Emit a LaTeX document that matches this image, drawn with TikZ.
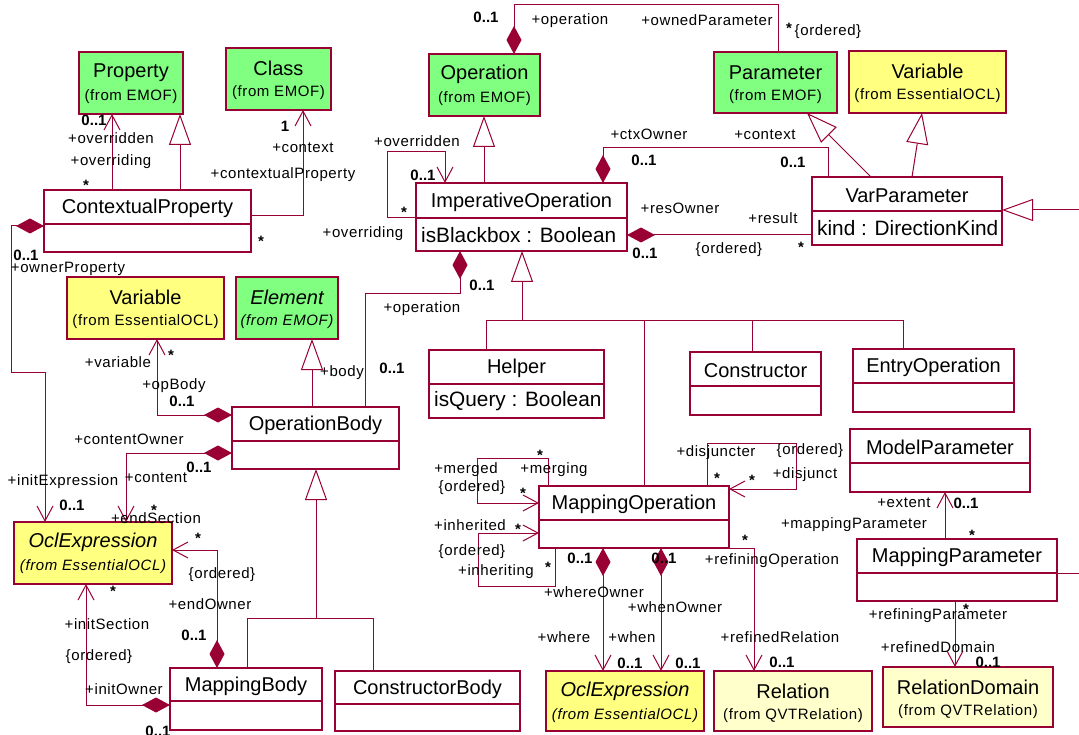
\documentclass[tikz,border=0pt]{standalone}
\usepackage{fontspec}
\setmainfont{Liberation Sans}
\newfontfamily\lblfam[LetterSpace=4]{Liberation Sans}
\usetikzlibrary{arrows.meta,calc}
\definecolor{bord}{RGB}{153,0,51}
\definecolor{gfill}{RGB}{128,255,128}
\definecolor{yfill}{RGB}{255,255,128}
\definecolor{lyfill}{RGB}{255,255,204}
\newcommand\lblfont{\lblfam\fontsize{15}{17}\selectfont}
\newcommand\multfont{\fontsize{15}{17}\selectfont\bfseries}
\newcommand\titlefont{\fontsize{20}{23}\selectfont}
\newcommand\attrfont{\fontsize{20.8}{23}\selectfont}
% two-line class box: name, x1, y1, x2, y2, fill, title, subtitle
\newcommand\clsA[8]{%
  \node[box,fill=#6,minimum width={(#4)-(#2)},minimum height={(#5)-(#3)}] (#1) at (#2,#3) {};
  \node[ttl] (#1t) at ($(#1.north)+(0,20.5)$) {#7};
  \node[sbt] (#1s) at ($(#1.north)+(0,45)$) {#8};
}
% compartment class box: name, x1, y1, x2, ydiv, y2, title, attribute
\newcommand\clsB[8]{%
  \node[box,minimum width={(#4)-(#2)},minimum height={(#6)-(#3)}] (#1) at (#2,#3) {};
  \draw[boxline] (#1.west |- 0,#5) -- (#1.east |- 0,#5);
  \node[ttl] (#1t) at ({(#2+#4)/2},{(#3+#5)/2+1.5}) {#7};
  \node[atr] (#1a) at ({#2+5},{(#5+#6)/2+0.5}) {#8};
}
\begin{document}
\begin{tikzpicture}[x=1pt,y=-1pt,
  box/.style={rectangle,draw=bord,line width=1.3pt,fill=white,inner sep=0pt,outer sep=0pt,anchor=north west},
  boxline/.style={draw=bord,line width=1.3pt},
  ttl/.style={font=\titlefont,inner sep=0pt},
  sbt/.style={font=\lblfont,inner sep=0pt},
  atr/.style={font=\attrfont,inner sep=0pt,anchor=west},
  ln/.style={draw=bord,line width=1pt},
  lbl/.style={font=\lblfont,inner sep=0pt},
  mul/.style={font=\multfont,inner sep=0pt},
  st/.style={font=\multfont,inner sep=0pt,yshift=-3pt},
  dia/.tip={Diamond[length=28pt,width=15pt]},
  oarr/.tip={Straight Barb[length=15pt,width=16pt]},
  genT/.tip={Triangle[length=31pt,width=22pt,fill=white]}]
\fill[white] (0,0) rectangle (1079,735);
\useasboundingbox (0,0) rectangle (1079,735);

% ---------- classes ----------
\clsA{prop}{79}{52}{183}{114}{gfill}{Property}{(from EMOF)}
\clsA{clsC}{226}{48}{331}{110}{gfill}{Class}{(from EMOF)}
\clsA{op}{429}{54}{540}{116}{gfill}{Operation}{(from EMOF)}
\clsA{param}{714}{52}{837}{113}{gfill}{Parameter}{(from EMOF)}
\clsA{vartwo}{849}{51}{1006}{113}{yfill}{Variable}{(from EssentialOCL)}
\clsA{varone}{67}{277}{224}{339}{yfill}{Variable}{(from EssentialOCL)}
\clsA{elem}{236}{277}{338}{339}{gfill}{\itshape Element}{\itshape (from EMOF)}
\clsA{oclone}{14}{522}{172}{584}{yfill}{\itshape OclExpression}{\itshape (from EssentialOCL)}
\clsA{ocltwo}{546}{671}{704}{731}{yfill}{\itshape OclExpression}{\itshape (from EssentialOCL)}
\clsA{rel}{714}{671}{872}{731}{lyfill}{Relation}{(from QVTRelation)}
\clsA{reldom}{883}{667}{1053}{727}{lyfill}{RelationDomain}{(from QVTRelation)}

\clsB{cp}{44}{190}{251}{224}{252}{ContextualProperty}{}
\clsB{impop}{416}{183}{627}{218}{251}{ImperativeOperation}{isBlackbox : Boolean}
\clsB{varp}{812}{177}{1002}{211}{245}{VarParameter}{kind : DirectionKind}
\clsB{opb}{232}{407}{399}{441}{469}{OperationBody}{}
\clsB{helper}{429}{350}{604}{384}{418}{Helper}{isQuery : Boolean}
\clsB{ctor}{690}{352}{821}{386}{415}{Constructor}{}
\clsB{entry}{853}{349}{1014}{383}{412}{EntryOperation}{}
\clsB{mapop}{539}{486}{729}{520}{548}{MappingOperation}{}
\clsB{modelp}{850}{429}{1030}{463}{492}{ModelParameter}{}
\clsB{mapp}{857}{539}{1057}{573}{601}{MappingParameter}{}
\clsB{mbody}{170}{668}{322}{701}{730}{MappingBody}{}
\clsB{cbody}{335}{671}{520}{704}{731}{ConstructorBody}{}

% ---------- connectors ----------
\draw[ln,-genT] (cp.north -| 180,0) -- (prop.south -| 180,0);
\draw[ln,-oarr] (cp.north -| 112,0) -- (prop.south -| 112,0);
\draw[ln,-oarr] (cp.east |- 0,216) -- (303,216) -- (clsC.south -| 303,0);
\draw[ln,dia-oarr] (cp.west |- 0,226) -- (11,226) -- (11,372) -- (45,372) -- (oclone.north -| 45,0);
\draw[ln,dia-oarr] (opb.west |- 0,415) -- (157,415) -- (varone.south -| 157,0);
\draw[ln,dia-oarr] (opb.west |- 0,453) -- (126,453) -- (oclone.north -| 126,0);
\draw[ln,-genT] (opb.north -| 312,0) -- (elem.south -| 312,0);
\draw[ln,dia-] (impop.south -| 460,0) -- (460,294) -- (365,294) -- (opb.north -| 365,0);
\coordinate (jone) at (316,618);
\draw[ln,-genT] (jone) -- (opb.south -| jone);
\draw[ln] (mbody.north -| 247,0) -- (247,618) -- (373,618) -- (cbody.north -| 373,0);
\draw[ln,dia-oarr] (mbody.north -| 217,0) -- (217,550) -- (oclone.east |- 0,550);
\draw[ln,dia-oarr] (mbody.west |- 0,705) -- (86,705) -- (oclone.south -| 86,0);
\draw[ln,-genT] (impop.north -| 484,0) -- (op.south -| 484,0);
\draw[ln,dia-] (op.north -| 514,0) -- (514,5) -- (778,5) -- (param.north -| 778,0);
\draw[ln,-oarr] (impop.west |- 0,218) -- (387,218) -- (387,152) -- (445,152) -- (impop.north -| 445,0);
\draw[ln,dia-] (impop.north -| 603,0) -- (603,148) -- (828,148) -- (varp.north -| 828,0);
\draw[ln,dia-] (impop.east |- 0,235) -- (varp.west |- 0,235);
\draw[ln,-genT] (varp.north -| 871,0) -- (param.south -| 807,0);
\draw[ln,-genT] (varp.north -| 912,0) -- (vartwo.south -| 922,0);
\coordinate (eone) at (1079,210);
\draw[ln,-genT] (eone) -- (varp.east |- eone);
\coordinate (jtwo) at (522,321);
\draw[ln,-genT] (jtwo) -- (impop.south -| jtwo);
\draw[ln] (helper.north -| 486,0) -- (486,321) -- (903,321) -- (entry.north -| 903,0);
\draw[ln] (mapop.north -| 644,0) -- (644,321);
\draw[ln] (ctor.north -| 752,0) -- (752,321);
\draw[ln,-oarr] (mapop.north -| 548,0) -- (548,458) -- (477,458) -- (477,503) -- (mapop.west |- 0,503);
\draw[ln,-oarr] (mapop.south -| 555,0) -- (555,586) -- (478,586) -- (478,533) -- (mapop.west |- 0,533);
\draw[ln,-oarr] (mapop.north -| 707,0) -- (707,443) -- (796,443) -- (796,489) -- (mapop.east |- 0,489);
\draw[ln,dia-oarr] (mapop.south -| 603,0) -- (ocltwo.north -| 603,0);
\draw[ln,dia-oarr] (mapop.south -| 661,0) -- (ocltwo.north -| 661,0);
\draw[ln,-oarr] (mapop.south east) -- (mapop.south east -| 754,0) -- (rel.north -| 754,0);
\draw[ln,-oarr] (mapp.north -| 945,0) -- (modelp.south -| 945,0);
\draw[ln,-oarr] (mapp.south -| 955,0) -- (reldom.north -| 955,0);
\coordinate (etwo) at (1079,573);
\draw[ln] (mapp.east |- etwo) -- (etwo);

% ---------- labels ----------
\node[mul] (a1) at (94,120) {0..1};
\node[lbl] (a2) at (111,138) {+overridden};
\node[lbl] (a3) at (111,162) {+overriding};
\node[st]  (a4) at (86,182) {*};
\node[mul] (a5) at (285,126) {1};
\node[lbl] (a6) at (303,148) {+context};
\node[lbl] (a7) at (283,175) {+contextualProperty};
\node[st]  (a8) at (261,238) {*};
\node[mul] (a9) at (26,255) {0..1};
\node[lbl] (a10) at (68,269) {+ownerProperty};
\node[lbl] (a11) at (118,362) {+variable};
\node[st]  (a12) at (171,352) {*};
\node[lbl] (a13) at (174,386) {+opBody};
\node[mul] (a14) at (182,401) {0..1};
\node[lbl] (a15) at (342,373) {+body};
\node[mul] (a16) at (392,368) {0..1};
\node[lbl] (a17) at (422,309) {+operation};
\node[mul] (a18) at (482,285) {0..1};
\node[lbl] (a19) at (129,439) {+contentOwner};
\node[mul] (a20) at (199,467) {0..1};
\node[lbl] (a21) at (63,482) {+initExpression};
\node[lbl] (a22) at (156,478) {+content};
\node[mul] (a23) at (72,505) {0..1};
\node[st]  (a24) at (154,507) {*};
\node[lbl] (a25) at (156,518) {+endSection};
\node[st]  (a26) at (198,535) {*};
\node[lbl] (a27) at (222,575) {\{ordered\}};
\node[st]  (a28) at (113,588) {*};
\node[lbl] (a29) at (210,604) {+endOwner};
\node[lbl] (a30) at (107,624) {+initSection};
\node[mul] (a31) at (194,635) {0..1};
\node[lbl] (a32) at (99,657) {\{ordered\}};
\node[lbl] (a33) at (124,689) {+initOwner};
\node[mul] (a34) at (158,731) {0..1};

\node[mul] (b1) at (486,17) {0..1};
\node[lbl] (b2) at (570,21) {+operation};
\node[lbl] (b3) at (707,20) {+ownedParameter};
\node[st]  (b4) at (789,25) {*};
\node[lbl] (b5) at (828,32) {\{ordered\}};
\node[lbl] (b6) at (417,141) {+overridden};
\node[mul] (b7) at (423,175) {0..1};
\node[st]  (b8) at (404,209) {*};
\node[lbl] (b9) at (363,234) {+overriding};
\node[lbl] (b10) at (649,134) {+ctxOwner};
\node[mul] (b11) at (644,160) {0..1};
\node[lbl] (b12) at (765,135) {+context};
\node[mul] (b13) at (793,162) {0..1};
\node[lbl] (b14) at (680,208) {+resOwner};
\node[lbl] (b15) at (773,218) {+result};
\node[mul] (b16) at (645,253) {0..1};
\node[lbl] (b17) at (729,250) {\{ordered\}};
\node[st]  (b18) at (801,244) {*};

\node[st]  (c1) at (540,452) {*};
\node[lbl] (c2) at (466,470) {+merged};
\node[lbl] (c3) at (554,470) {+merging};
\node[lbl] (c4) at (472,488) {\{ordered\}};
\node[st]  (c5) at (523,490) {*};
\node[lbl] (c6) at (470,525) {+inherited};
\node[st]  (c7) at (518,526) {*};
\node[lbl] (c8) at (472,552) {\{ordered\}};
\node[lbl] (c9) at (496,572) {+inheriting};
\node[st]  (c10) at (548,564) {*};
\node[mul] (c11) at (580,558) {0..1};
\node[mul] (c12) at (664,558) {0..1};
\node[lbl] (c13) at (716,453) {+disjuncter};
\node[lbl] (c14) at (810,451) {\{ordered\}};
\node[st]  (c15) at (717,475) {*};
\node[st]  (c16) at (752,477) {*};
\node[lbl] (c17) at (805,475) {+disjunct};
\node[st]  (c18) at (745,537) {*};
\node[lbl] (c19) at (772,561) {+refiningOperation};
\node[lbl] (c20) at (594,592) {+whereOwner};
\node[lbl] (c21) at (675,607) {+whenOwner};
\node[lbl] (c22) at (564,637) {+where};
\node[lbl] (c23) at (632,637) {+when};
\node[mul] (c24) at (630,663) {0..1};
\node[mul] (c25) at (688,663) {0..1};
\node[lbl] (c26) at (780,637) {+refinedRelation};
\node[mul] (c27) at (782,662) {0..1};
\node[lbl] (c28) at (904,503) {+extent};
\node[mul] (c29) at (966,503) {0..1};
\node[lbl] (c30) at (854,525) {+mappingParameter};
\node[st]  (c31) at (972,532) {*};
\node[st]  (c32) at (966,606) {*};
\node[lbl] (c33) at (938,616) {+refiningParameter};
\node[lbl] (c34) at (938,647) {+refinedDomain};
\node[mul] (c35) at (988,662) {0..1};
\end{tikzpicture}
\end{document}
